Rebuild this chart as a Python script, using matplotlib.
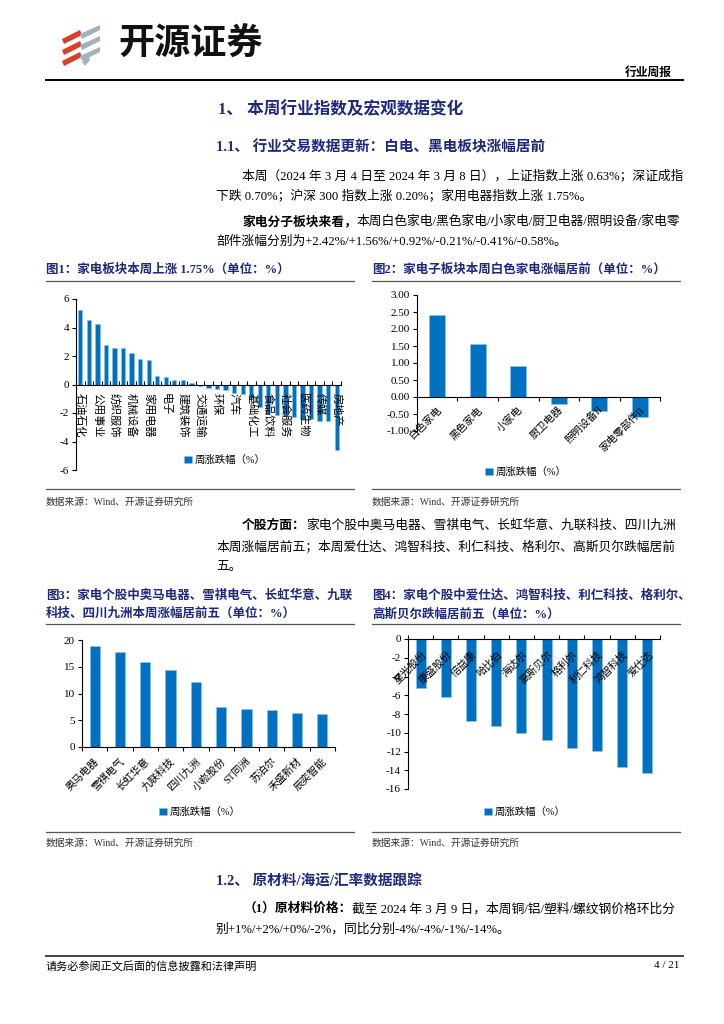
"""Weekly home-appliance report page: four bar charts plus surrounding text."""

import numpy as np
import matplotlib.pyplot as plt
from matplotlib.patches import Polygon
from matplotlib.ticker import FormatStrFormatter

W, H = 724, 1024
plt.rcParams['font.family'] = ['Liberation Serif', 'Noto Sans CJK SC']
plt.rcParams['axes.unicode_minus'] = False

NAVY = '#1d2a7c'
BLUE = '#0070c0'
EDGE = '#8fc0ea'

# fig 1: SW level-1 industries, weekly change (%)
ind_names = ['石油石化', '煤炭', '公用事业', '有色金属', '纺织服饰', '钢铁', '机械设备',
             '银行', '家用电器', '通信', '电子', '轻工制造', '建筑装饰', '建筑材料',
             '交通运输', '国防军工', '环保', '农林牧渔', '汽车', '电力设备', '基础化工',
             '商贸零售', '食品饮料', '非银金融', '社会服务', '美容护理', '医药生物',
             '计算机', '传媒', '综合', '房地产']
ind_chg = [5.25, 4.52, 4.24, 2.78, 2.59, 2.54, 2.24, 1.79, 1.75, 0.59, 0.52, 0.35,
           0.31, 0.12, -0.13, -0.28, -0.33, -0.40, -0.59, -0.68, -0.92, -1.58, -2.05,
           -2.12, -2.24, -2.28, -2.40, -2.45, -2.56, -2.58, -4.59]

# fig 2: home-appliance sub-sectors
sub_names = ['白色家电', '黑色家电', '小家电', '厨卫电器', '照明设备II', '家电零部件II']
sub_chg = [2.42, 1.56, 0.92, -0.21, -0.41, -0.58]

# fig 3: top gainers
up_names = ['奥马电器', '雪祺电气', '长虹华意', '九联科技', '四川九洲', '小崧股份',
            'ST同洲', '苏泊尔', '禾盛新材', '辰奕智能']
up_chg = [18.8, 17.7, 15.8, 14.4, 12.1, 7.5, 7.1, 7.0, 6.3, 6.2]

# fig 4: top losers
down_names = ['星光股份', '康盛股份', '倍益康', '哈比伯', '海达尔', '高斯贝尔', '格利尔',
              '利仁科技', '鸿智科技', '爱仕达']
down_chg = [-5.2, -6.2, -8.7, -9.25, -10.0, -10.75, -11.65, -11.95, -13.6, -14.3]

LEGEND = '周涨跌幅（%）'


def box(x0, y0, x1, y1):
    return [x0 / W, 1 - y1 / H, (x1 - x0) / W, (y1 - y0) / H]


def bar_chart(ax, names, vals, width, ylim, yticks, fmt, tickdir):
    x = np.arange(len(names))
    bars = ax.bar(x, vals, width=width, color=BLUE, edgecolor=EDGE, linewidth=0.4)
    ax.set_xlim(-0.5, len(names) - 0.5)
    ax.set_ylim(*ylim)
    ax.set_yticks(yticks)
    ax.yaxis.set_major_formatter(FormatStrFormatter(fmt))
    for s in ['top', 'right']:
        ax.spines[s].set_visible(False)
    ax.spines['bottom'].set_position(('data', 0))
    ax.spines['bottom'].set_linewidth(0.8)
    ax.spines['left'].set_linewidth(0.8)
    ax.set_xticks(x)
    ax.set_xticklabels([])
    ax.set_xticks(np.arange(len(names) + 1) - 0.5, minor=True)
    ax.tick_params(axis='x', which='major', length=0)
    ax.tick_params(axis='x', which='minor', length=3, width=0.8, direction=tickdir)
    ax.tick_params(axis='y', labelsize=8, length=3, width=0.8, pad=2)
    ax.patch.set_alpha(0)
    return bars


def legend(bars, cx, cy):
    fig.legend([bars], [LEGEND], loc='center', bbox_to_anchor=(cx / W, 1 - cy / H),
               frameon=False, fontsize=7.5, handlelength=0.75, handleheight=0.75,
               handletextpad=0.3, borderpad=0)


fig = plt.figure(figsize=(W / 100, H / 100), dpi=100)
page = fig.add_axes([0, 0, 1, 1])
page.set_xlim(0, W)
page.set_ylim(H, 0)
page.axis('off')

# logo
for y in [30, 41, 52]:
    page.add_patch(Polygon([(62, y + 9), (80, y), (82, y + 5), (64, y + 14)],
                           closed=True, color='#d8402b', lw=0))
for y in [25, 36, 47]:
    page.add_patch(Polygon([(80, y + 9), (100, y), (100, y + 5), (82, y + 14)],
                           closed=True, color='#9fb2c2', lw=0))
page.add_patch(Polygon([(82, 62), (88, 56), (90, 60), (85, 66)], closed=True,
                       color='#9fb2c2', lw=0))
page.text(118, 44, '开源证券', fontsize=26, fontweight='bold', va='center',
          family='Noto Sans CJK SC', color='#111111')
page.text(672, 73, '行业周报', fontsize=8.5, fontweight='bold', ha='right', va='center')
page.plot([46, 683], [80, 80], color='black', lw=1.4)

# headings and body text
BODY = 9.2
page.text(218, 110, '1、 本周行业指数及宏观数据变化', fontsize=12, fontweight='bold',
          color=NAVY, va='center')
page.text(216, 147, '1.1、 行业交易数据更新：白电、黑电板块涨幅居前', fontsize=10.5,
          fontweight='bold', color=NAVY, va='center')
page.text(242, 176, '本周（2024 年 3 月 4 日至 2024 年 3 月 8 日），上证指数上涨 0.63%；深证成指',
          fontsize=BODY, va='center')
page.text(216, 196, '下跌 0.70%；沪深 300 指数上涨 0.20%；家用电器指数上涨 1.75%。',
          fontsize=BODY, va='center')
t = page.text(242, 222, '家电分子板块来看，', fontsize=BODY, fontweight='bold', va='center')
page.annotate('本周白色家电/黑色家电/小家电/厨卫电器/照明设备/家电零', xy=(1, 0.5),
              xycoords=t, fontsize=BODY, va='center', ha='left')
page.text(216, 242, '部件涨幅分别为+2.42%/+1.56%/+0.92%/-0.21%/-0.41%/-0.58%。',
          fontsize=BODY, va='center')

page.text(46, 270, '图1：家电板块本周上涨 1.75%（单位：%）', fontsize=9, fontweight='bold',
          color=NAVY, va='center')
page.text(372, 270, '图2：家电子板块本周白色家电涨幅居前（单位：%）', fontsize=9,
          fontweight='bold', color=NAVY, va='center')
for x0, x1 in [(46, 354), (372, 680)]:
    page.plot([x0, x1], [281, 281], color='#555555', lw=0.9)
    page.plot([x0, x1], [489, 489], color='#555555', lw=0.9)
    page.text(x0, 502, '数据来源：Wind、开源证券研究所', fontsize=7, va='center', color='#333333')

t = page.text(242, 526, '个股方面：', fontsize=BODY, fontweight='bold', va='center')
page.annotate('家电个股中奥马电器、雪祺电气、长虹华意、九联科技、四川九洲', xy=(1, 0.5),
              xycoords=t, fontsize=BODY, va='center', ha='left')
page.text(216, 547, '本周涨幅居前五；本周爱仕达、鸿智科技、利仁科技、格利尔、高斯贝尔跌幅居前',
          fontsize=BODY, va='center')
page.text(216, 567, '五。', fontsize=BODY, va='center')

page.text(46, 596, '图3：家电个股中奥马电器、雪祺电气、长虹华意、九联', fontsize=9,
          fontweight='bold', color=NAVY, va='center')
page.text(46, 614, '科技、四川九洲本周涨幅居前五（单位：%）', fontsize=9,
          fontweight='bold', color=NAVY, va='center')
page.text(372, 596, '图4：家电个股中爱仕达、鸿智科技、利仁科技、格利尔、', fontsize=9,
          fontweight='bold', color=NAVY, va='center')
page.text(372, 614, '高斯贝尔跌幅居前五（单位：%）', fontsize=9,
          fontweight='bold', color=NAVY, va='center')
for x0, x1 in [(46, 354), (372, 680)]:
    page.plot([x0, x1], [624, 624], color='#555555', lw=0.9)
    page.plot([x0, x1], [832, 832], color='#555555', lw=0.9)
    page.text(x0, 843, '数据来源：Wind、开源证券研究所', fontsize=7, va='center', color='#333333')

page.text(216, 881, '1.2、 原材料/海运/汇率数据跟踪', fontsize=10.5, fontweight='bold',
          color=NAVY, va='center')
t = page.text(244, 909, '（1）原材料价格：', fontsize=BODY, fontweight='bold', va='center')
page.annotate('截至 2024 年 3 月 9 日，本周铜/铝/塑料/螺纹钢价格环比分', xy=(1, 0.5),
              xycoords=t, fontsize=BODY, va='center', ha='left')
page.text(216, 929, '别+1%/+2%/+0%/-2%，同比分别-4%/-4%/-1%/-14%。', fontsize=BODY, va='center')

page.plot([46, 683], [956, 956], color='#444444', lw=1.4)
page.text(46, 966, '请务必参阅正文后面的信息披露和法律声明', fontsize=8, va='center')
page.text(679, 966, '4 / 21', fontsize=8, va='center', ha='right')

# fig 1
ax1 = fig.add_axes(box(76, 299, 341, 470))
b1 = bar_chart(ax1, ind_names, ind_chg, 0.5, (-6, 6), np.arange(-6, 7, 2), '%d', 'in')
for i, name in enumerate(ind_names):
    if i % 2 == 0:
        ax1.annotate(name, xy=(i, 0), xytext=(0, -6), textcoords='offset points',
                     rotation=-90, rotation_mode='anchor', ha='left', va='center',
                     fontsize=8, family='Noto Sans CJK SC')
legend(b1, 225, 460)

# fig 2
ax2 = fig.add_axes(box(417, 295, 660, 431))
b2 = bar_chart(ax2, sub_names, sub_chg, 0.4, (-1, 3), np.arange(-1, 3.01, 0.5), '%.2f', 'out')
for i, name in enumerate(sub_names):
    ax2.annotate(name, xy=(i, 0), xytext=(2, -8), textcoords='offset points',
                 rotation=45, rotation_mode='anchor', ha='right', va='center',
                 fontsize=7.5)
legend(b2, 526, 472)

# fig 3
ax3 = fig.add_axes(box(82, 640, 335, 747))
b3 = bar_chart(ax3, up_names, up_chg, 0.4, (0, 20), np.arange(0, 21, 5), '%d', 'out')
for i, name in enumerate(up_names):
    ax3.annotate(name, xy=(i, 0), xytext=(2, -9), textcoords='offset points',
                 rotation=45, rotation_mode='anchor', ha='right', va='center',
                 fontsize=7.5)
legend(b3, 200, 812)

# fig 4
ax4 = fig.add_axes(box(408, 639, 660, 789))
b4 = bar_chart(ax4, down_names, down_chg, 0.4, (-16, 0), np.arange(-16, 1, 2), '%d', 'in')
for i, name in enumerate(down_names):
    ax4.annotate(name, xy=(i, 0), xytext=(3, -10), textcoords='offset points',
                 rotation=45, rotation_mode='anchor', ha='right', va='center',
                 fontsize=7.5)
legend(b4, 525, 812)

fig.savefig('out.png', dpi=100)
